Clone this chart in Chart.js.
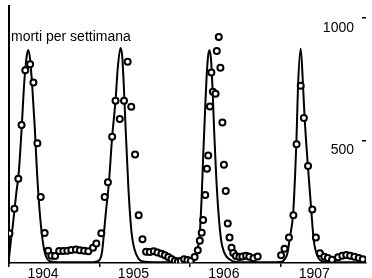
<!DOCTYPE html>
<html>
<head>
<meta charset="utf-8">
<script src="https://cdn.jsdelivr.net/npm/chart.js@4/dist/chart.umd.min.js"></script>
<style>
  body { margin: 0; background: #fff; }
  canvas { display: block; }
</style>
</head>
<body>
<canvas id="peste" width="372" height="278"></canvas>
<script>
// dati osservati (cerchi)
const anniOsservati = [
  1904.005, 1904.060, 1904.103, 1904.139, 1904.180, 1904.234, 1904.270, 1904.314, 1904.351, 1904.394,
  1904.433, 1904.468, 1904.510, 1904.555, 1904.601, 1904.645, 1904.689, 1904.740, 1904.784, 1904.831,
  1904.877, 1904.929, 1904.966, 1905.021, 1905.058, 1905.094, 1905.141, 1905.178, 1905.225, 1905.272,
  1905.312, 1905.352, 1905.394, 1905.434, 1905.476, 1905.516, 1905.557, 1905.601, 1905.642, 1905.686,
  1905.724, 1905.761, 1905.797, 1905.835, 1905.868, 1905.900, 1905.936, 1905.973, 1906.011, 1906.053,
  1906.088, 1906.110, 1906.131, 1906.147, 1906.170, 1906.189, 1906.203, 1906.222, 1906.238, 1906.255,
  1906.284, 1906.298, 1906.320, 1906.338, 1906.360, 1906.377, 1906.397, 1906.419, 1906.439, 1906.461,
  1906.480, 1906.510, 1906.548, 1906.581, 1906.622, 1906.657, 1906.703, 1906.750, 1907.009, 1907.047,
  1907.096, 1907.145, 1907.180, 1907.226, 1907.261, 1907.307, 1907.354, 1907.394, 1907.438, 1907.487,
  1907.526, 1907.572, 1907.639, 1907.686, 1907.730, 1907.773, 1907.820, 1907.868, 1907.912
];
const mortiOsservate = [
  121, 222, 344, 564, 787, 812, 737, 489, 270, 123,
  50, 30, 29, 49, 49, 50, 53, 55, 52, 50,
  48, 62, 80, 122, 270, 330, 516, 663, 588, 663,
  822, 638, 443, 195, 97, 46, 45, 48, 43, 38,
  32, 25, 16, 9, 6, 8, 15, 12, 9, 25,
  52, 91, 124, 176, 278, 385, 439, 639, 778, 700,
  691, 866, 923, 798, 574, 401, 294, 161, 104, 62,
  41, 29, 25, 27, 30, 26, 19, 27, 32, 58,
  104, 195, 485, 724, 592, 396, 219, 104, 40, 26,
  20, 13, 23, 30, 33, 30, 26, 20, 15
];

// curva del modello
const anniModello = [
  1904.000, 1904.022, 1904.041, 1904.060, 1904.082, 1904.107, 1904.139, 1904.169, 1904.194, 1904.212,
  1904.234, 1904.259, 1904.285, 1904.307, 1904.332, 1904.362, 1904.397, 1904.460, 1904.550, 1904.931,
  1904.964, 1905.004, 1905.029, 1905.050, 1905.072, 1905.105, 1905.141, 1905.178, 1905.203, 1905.233,
  1905.252, 1905.269, 1905.285, 1905.320, 1905.356, 1905.410, 1905.501, 1905.584, 1905.966, 1906.028,
  1906.074, 1906.110, 1906.129, 1906.147, 1906.165, 1906.183, 1906.202, 1906.216, 1906.234, 1906.252,
  1906.270, 1906.292, 1906.317, 1906.346, 1906.382, 1906.434, 1906.510, 1906.619, 1906.946, 1907.014,
  1907.047, 1907.080, 1907.106, 1907.142, 1907.164, 1907.178, 1907.196, 1907.226, 1907.251, 1907.269,
  1907.305, 1907.341, 1907.370, 1907.414, 1907.487, 1907.599, 1907.948
];
const mortiModello = [
  20, 95, 150, 215, 290, 365, 545, 740, 840, 870,
  830, 710, 553, 390, 244, 122, 41, 6, 3, 3,
  5, 14, 45, 122, 210, 329, 516, 663, 797, 878,
  845, 730, 590, 309, 122, 33, 5, 3, 3, 9,
  41, 122, 256, 431, 593, 744, 846, 869, 833, 703,
  528, 350, 203, 93, 41, 16, 4, 3, 3, 5,
  15, 41, 104, 200, 360, 490, 720, 875, 730, 595,
  398, 224, 93, 26, 5, 3, 3
];

const anniTick = [1904, 1905, 1906, 1907];
const mortiTick = [500, 1000];

Chart.defaults.font.family = '"Liberation Sans", Arial, sans-serif';
Chart.defaults.font.size = 14;
Chart.defaults.color = '#000';

const etichetta = {
  id: 'etichetta',
  beforeDatasetsDraw(chart) {
    const { ctx, chartArea } = chart;
    ctx.save();
    ctx.font = '14px "Liberation Sans", Arial, sans-serif';
    ctx.fillStyle = '#000';
    ctx.textBaseline = 'middle';
    ctx.fillText('morti per settimana', chartArea.left + 2, chartArea.top + 31);
    ctx.restore();
  }
};

new Chart(document.getElementById('peste'), {
  type: 'line',
  data: {
    datasets: [
      {
        label: 'osservati',
        data: anniOsservati.map((a, i) => ({ x: a, y: mortiOsservate[i] })),
        showLine: false,
        pointRadius: 3,
        pointBorderWidth: 2,
        pointBorderColor: '#000',
        pointBackgroundColor: '#fff',
        order: 0
      },
      {
        label: 'modello',
        data: anniModello.map((a, i) => ({ x: a, y: mortiModello[i] })),
        borderColor: '#000',
        borderWidth: 2,
        pointRadius: 0,
        cubicInterpolationMode: 'monotone',
        fill: false,
        order: 1
      }
    ]
  },
  options: {
    responsive: false,
    animation: false,
    layout: { padding: { top: 6, left: 0, right: 0, bottom: 0 } },
    plugins: { legend: { display: false }, tooltip: { enabled: false } },
    scales: {
      x: {
        type: 'linear',
        min: 1904,
        max: 1907.948,
        afterBuildTicks: s => { s.ticks = anniTick.map(v => ({ value: v })); },
        afterFit: s => { s.height = 15; s.paddingLeft = 0; s.paddingRight = 0; },
        ticks: {
          labelOffset: 34,
          padding: -1.5,
          callback: v => String(v)
        },
        grid: { drawOnChartArea: false, drawTicks: true, tickLength: 4, color: '#000', lineWidth: 1.5 },
        border: { display: true, color: '#000', width: 1.5 }
      },
      y: {
        position: 'left',
        min: 0,
        max: 1050,
        afterFit: s => { s.width = 9; },
        ticks: { display: false },
        grid: { drawOnChartArea: false, drawTicks: false },
        border: { display: true, color: '#000', width: 2 }
      },
      y2: {
        position: 'right',
        min: 0,
        max: 1050,
        afterBuildTicks: s => { s.ticks = mortiTick.map(v => ({ value: v })); },
        afterFit: s => { s.width = 0; s.paddingTop = 0; s.paddingBottom = 0; },
        ticks: { mirror: true, padding: -12, labelOffset: 10, callback: v => String(v) },
        grid: { drawOnChartArea: false, drawTicks: true, tickLength: -4, color: '#000', lineWidth: 1.5 },
        border: { display: false }
      }
    }
  },
  plugins: [etichetta]
});
</script>
</body>
</html>
